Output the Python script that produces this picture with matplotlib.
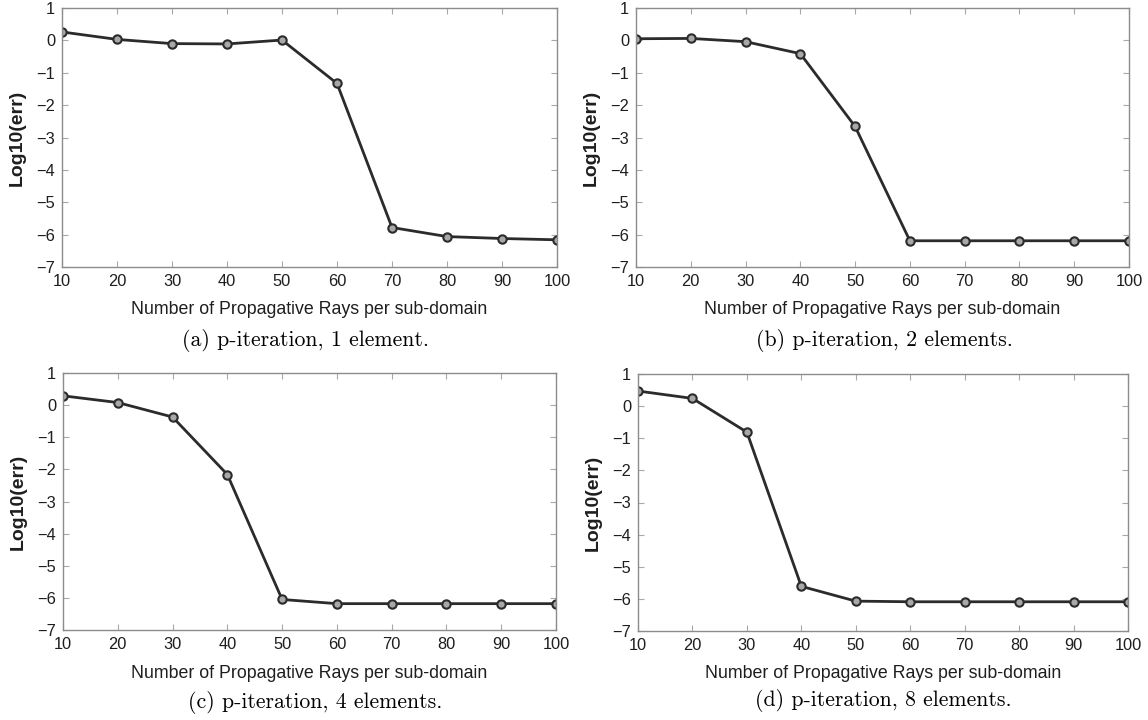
import matplotlib
matplotlib.use("Agg")
import matplotlib.pyplot as plt
from matplotlib.ticker import MultipleLocator

rays = [10, 20, 30, 40, 50, 60, 70, 80, 90, 100]
err_1el = [0.26, 0.03, -0.10, -0.11, 0.01, -1.33, -5.78, -6.06, -6.12, -6.16]
err_2el = [0.05, 0.06, -0.04, -0.41, -2.66, -6.19, -6.19, -6.19, -6.19, -6.19]
err_4el = [0.29, 0.08, -0.37, -2.16, -6.05, -6.18, -6.18, -6.18, -6.18, -6.18]
err_8el = [0.47, 0.24, -0.81, -5.61, -6.07, -6.09, -6.09, -6.09, -6.09, -6.09]
captions = ["(a) p-iteration, 1 element.", "(b) p-iteration, 2 elements.",
            "(c) p-iteration, 4 elements.", "(d) p-iteration, 8 elements."]
xlabel = "Number of Propagative Rays per sub-domain"
ylabel = "Log10(err)"

W, H = 1148, 720
fig = plt.figure(figsize=(W / 100, H / 100), dpi=100)

# pixel boxes (left, right, top, bottom)
boxes = [(62, 557, 8, 267), (636, 1129, 8, 267),
         (63, 556, 373, 630), (638, 1128, 374, 631)]
series = [err_1el, err_2el, err_4el, err_8el]
cap_y = [341, 341, 702, 700]
xlab_y = [310, 310, 673, 673]
cap_dx = [-4, 2, 6, 0]

sans = ["Liberation Sans", "DejaVu Sans"]
for (l, r, t, b), ys, cap, cy, xy, dx in zip(boxes, series, captions, cap_y, xlab_y, cap_dx):
    ax = fig.add_axes([l / W, 1 - b / H, (r - l) / W, (b - t) / H])
    ax.plot(rays, ys, color="#2b2b2b", lw=2.0, marker="o", ms=6,
            mfc="#a8a8a8", mec="#2b2b2b", mew=1.5)
    ax.set_xlim(10, 100)
    ax.set_ylim(-7, 1)
    ax.xaxis.set_major_locator(MultipleLocator(10))
    ax.yaxis.set_major_locator(MultipleLocator(1))
    ax.tick_params(direction="in", length=4, width=0.8, color="#a8a8a8",
                   top=True, right=True, labelsize=11.8, labelcolor="#1e1e1e",
                   pad=5)
    for lab in ax.get_xticklabels() + ax.get_yticklabels():
        lab.set_family(sans)
    for sp in ax.spines.values():
        sp.set_color("#8c8c8c")
        sp.set_linewidth(1.0)
    cx = (l + r) / 2
    fig.text(cx / W, 1 - xy / H, xlabel, ha="center", va="center",
             fontsize=12.8, family=sans, color="#1e1e1e")
    fig.text((l - 45) / W, 1 - ((t + b) / 2) / H, ylabel, ha="center",
             va="center", rotation=90, fontsize=14, family=sans,
             fontweight="bold", color="#1e1e1e")
    fig.text((cx + dx) / W, 1 - cy / H, cap, ha="center", va="center",
             fontsize=15.7, family=["cmr10", "DejaVu Serif"], color="black")

fig.savefig("out.png", dpi=100)
